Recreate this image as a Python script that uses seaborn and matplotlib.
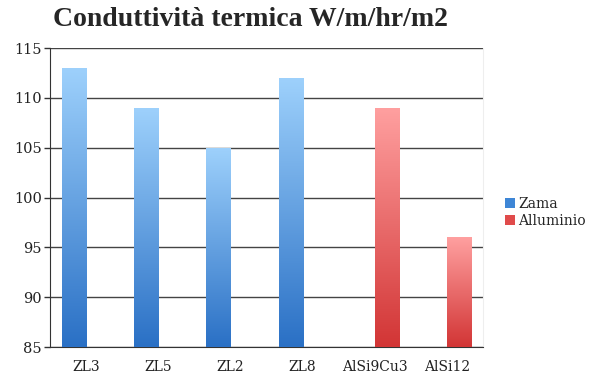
import numpy as np
import pandas as pd
import matplotlib
matplotlib.use("Agg")
import matplotlib.pyplot as plt
import seaborn as sns
from matplotlib.colors import LinearSegmentedColormap
from matplotlib.patches import Patch

categories = ['ZL3', 'ZL5', 'ZL2', 'ZL8', 'AlSi9Cu3', 'AlSi12']
zama = [113, 109, 105, 112, None, None]
alluminio = [None, None, None, None, 109, 96]
series = ['Zama', 'Alluminio']
y_ticks = [85, 90, 95, 100, 105, 110, 115]

# gradient colours (top -> bottom)
grad = {
    'Zama': ('#9ED1FC', '#2A70C5'),
    'Alluminio': ('#FFA0A0', '#D23535'),
}
legend_colors = {'Zama': '#3E86D6', 'Alluminio': '#E04B4B'}

rows = []
for cat, z, a in zip(categories, zama, alluminio):
    if z is not None:
        rows.append({'cat': cat, 'serie': 'Zama', 'val': z})
    if a is not None:
        rows.append({'cat': cat, 'serie': 'Alluminio', 'val': a})
df = pd.DataFrame(rows)

sns.set_style('white')
plt.rcParams['font.family'] = ['DejaVu Serif']

fig = plt.figure(figsize=(6.07, 3.86), dpi=100)
ax = fig.add_axes([0.0824, 0.101, 0.7133, 0.7746])

sns.barplot(data=df, x='cat', y='val', hue='serie', order=categories,
            hue_order=series, dodge=True, width=0.667, ax=ax,
            palette=legend_colors, legend=False, zorder=3)

ax.set_ylim(85, 115)
ax.set_xlim(-0.5, len(categories) - 0.5)

# replace flat fills with vertical gradients
bars = [p for p in ax.patches if p.get_height() > 0]
for p in bars:
    x0 = p.get_x()
    w = p.get_width()
    h = p.get_height()
    xc = x0 + w / 2
    # which series: left of category centre is Zama
    name = 'Zama' if xc < round(xc) else 'Alluminio'
    cmap = LinearSegmentedColormap.from_list(name, [grad[name][1], grad[name][0]])
    img = np.linspace(0, 1, 256).reshape(-1, 1)
    im = ax.imshow(img, cmap=cmap, aspect='auto', origin='lower',
                   extent=[x0, x0 + w, 85, h], zorder=3)
    im.set_clip_path(p)
    p.set_facecolor('none')
    p.set_edgecolor('none')

ax.set_xlim(-0.5, len(categories) - 0.5)
ax.set_ylim(85, 115)
ax.set_yticks(y_ticks)
ax.set_yticklabels([str(t) for t in y_ticks], fontsize=10.5, color='#222222')
ax.set_xticks(range(len(categories)))
ax.set_xticklabels(categories, fontsize=10, color='#222222')
ax.set_xticks(np.arange(-0.5, len(categories)), minor=True)
ax.tick_params(axis='x', which='major', length=0, pad=9)
ax.tick_params(axis='x', which='minor', length=5, width=1, color='#333333', direction='out')
ax.tick_params(axis='y', length=4, width=1, color='#333333', direction='out', pad=2, left=True)
ax.set_xlabel('')
ax.set_ylabel('')

ax.yaxis.grid(True, color='#444444', linewidth=1, zorder=0)
ax.set_axisbelow(True)
ax.spines['top'].set_visible(False)
ax.spines['right'].set_color('#EEEEEE')
ax.spines['left'].set_color('#333333')
ax.spines['bottom'].set_color('#333333')

handles = [Patch(facecolor=legend_colors[s], edgecolor='none', label=s) for s in series]
fig.legend(handles=handles, loc='center left', bbox_to_anchor=(0.812, 0.45),
           frameon=False, fontsize=10, handlelength=0.7, handleheight=0.7,
           handletextpad=0.2, labelspacing=0.2)

fig.text(0.4135, 0.95, 'Conduttività termica W/m/hr/m2', ha='center', va='center',
         fontsize=20, fontweight='bold', family=['Liberation Serif'])

fig.savefig('out.png', dpi=100)
